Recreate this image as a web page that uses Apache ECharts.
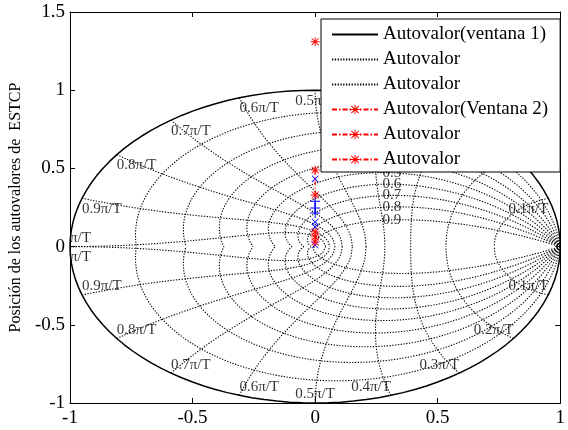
<!DOCTYPE html>
<html lang="es">
<head>
<meta charset="UTF-8">
<title>Autovalores ESTCP</title>
<script src="https://cdn.jsdelivr.net/npm/echarts@6/dist/echarts.min.js"></script>
<style>html,body{margin:0;padding:0;background:#fff;}</style>
</head>
<body>
<div id="main" style="width:568px;height:430px;"></div>
<script type="text/javascript">
// ejes
var xRange = [-1, 1];
var yRange = [-1, 1.5];
var tickStep = 0.5;

// rejilla zgrid: coeficientes de amortiguamiento y frecuencias naturales (x pi/T)
var zetaValues = [0.1, 0.2, 0.3, 0.4, 0.5, 0.6, 0.7, 0.8, 0.9];
var wnValues = [0.1, 0.2, 0.3, 0.4, 0.5, 0.6, 0.7, 0.8, 0.9, 1.0];
var wnLabels = ['0.1\u03c0/T', '0.2\u03c0/T', '0.3\u03c0/T', '0.4\u03c0/T', '0.5\u03c0/T',
                '0.6\u03c0/T', '0.7\u03c0/T', '0.8\u03c0/T', '0.9\u03c0/T', '\u03c0/T'];
var zetaLabels = ['0.1', '0.2', '0.3', '0.4', '0.5', '0.6', '0.7', '0.8', '0.9'];

// autovalores [real, imag]
var ventana2a = [[0, 1.31]];
var ventana2b = [[0, 0.49], [0, 0.33]];
var ventana2c = [[0, 0.094], [0, 0.062], [0, 0.03]];
var azulMas = [[0, 0.29], [0, 0.247], [0, 0.215]];
var azulX = [[0, 0.433], [0, 0.158], [0, 0.126], [0, 0.01]];

var FONT = 'Liberation Serif';
var asterisco = 'path://M-0.5,-5L0.5,-5L0.5,5L-0.5,5Z M-5,-0.5L5,-0.5L5,0.5L-5,0.5Z M-4.2,-3.5L-3.5,-4.2L4.2,3.5L3.5,4.2Z M3.5,-4.2L4.2,-3.5L-3.5,4.2L-4.2,3.5Z';
var mas = 'path://M-0.5,-5L0.5,-5L0.5,5L-0.5,5Z M-5,-0.5L5,-0.5L5,0.5L-5,0.5Z';
var cruz = 'path://M-4.2,-3.5L-3.5,-4.2L4.2,3.5L3.5,4.2Z M3.5,-4.2L4.2,-3.5L-3.5,4.2L-4.2,3.5Z';

var dotted = [1.3, 1.5];
var sinColor = 'rgba(0,0,0,0)';
var series = [];

// curvas de amortiguamiento constante: z = exp(sT)
function curvaZeta(zeta, signo) {
    var pts = [];
    var k = zeta / Math.sqrt(1 - zeta * zeta);
    for (var i = 0; i <= 80; i++) {
        var th = Math.PI * i / 80;
        var r = Math.exp(-k * th);
        pts.push([r * Math.cos(th), signo * r * Math.sin(th)]);
    }
    return pts;
}
// curvas de frecuencia natural constante
function curvaWn(wn, signo) {
    var pts = [];
    var w = wn * Math.PI;
    for (var i = 0; i <= 50; i++) {
        var z = i / 50;
        var r = Math.exp(-z * w);
        var th = w * Math.sqrt(1 - z * z);
        pts.push([r * Math.cos(th), signo * r * Math.sin(th)]);
    }
    return pts;
}
function rejilla(name, data) {
    series.push({
        name: name, type: 'line', data: data, symbol: 'circle', showSymbol: false, silent: true,
        itemStyle: {color: sinColor},
        lineStyle: {color: '#000', width: 1.1, type: dotted}, z: 1
    });
}
zetaValues.forEach(function (zt) {
    rejilla('Autovalor', curvaZeta(zt, 1));
    rejilla('Autovalor', curvaZeta(zt, -1));
});
wnValues.forEach(function (wn) {
    rejilla('Autovalor#2', curvaWn(wn, 1));
    rejilla('Autovalor#2', curvaWn(wn, -1));
});

// circulo unidad
var circulo = [];
for (var i = 0; i <= 120; i++) {
    var a = 2 * Math.PI * i / 120;
    circulo.push([Math.cos(a), Math.sin(a)]);
}
series.unshift({
    name: 'Autovalor(ventana 1)', type: 'line', data: circulo, symbol: 'circle', showSymbol: false, silent: true,
    itemStyle: {color: sinColor},
    lineStyle: {color: '#000', width: 1.5}, z: 2
});

// etiquetas de frecuencia natural
var etiquetasWn = [];
wnValues.forEach(function (wn, i) {
    var x = Math.cos(wn * Math.PI), y = Math.sin(wn * Math.PI);
    var al = Math.abs(x) < 1e-6 ? 'center' : (x < 0 ? 'left' : 'right');
    var arriba = wn < 1 ? 'top' : 'bottom';
    var abajo = wn < 1 ? 'bottom' : 'top';
    etiquetasWn.push({value: [x, y], label: {formatter: wnLabels[i], align: al, verticalAlign: arriba,
        offset: [0, arriba === 'top' ? 3 : -1]}});
    etiquetasWn.push({value: [x, -y], label: {formatter: wnLabels[i], align: al, verticalAlign: abajo,
        offset: [0, abajo === 'top' ? 3 : -1]}});
});
// etiquetas de amortiguamiento (donde la curva cruza x = 0.3)
var etiquetasZeta = [];
zetaValues.forEach(function (zt, i) {
    var k = zt / Math.sqrt(1 - zt * zt);
    var lo = 0, hi = Math.PI / 2;
    for (var n = 0; n < 40; n++) {
        var mid = (lo + hi) / 2;
        if (Math.exp(-k * mid) * Math.cos(mid) > 0.3) lo = mid; else hi = mid;
    }
    var y = Math.exp(-k * lo) * Math.sin(lo);
    etiquetasZeta.push({value: [0.275, y], label: {formatter: zetaLabels[i], align: 'left', verticalAlign: 'middle'}});
});
var etiquetaBase = {show: true, position: 'inside', fontFamily: FONT, fontSize: 15, color: '#000'};
series.push({type: 'scatter', data: etiquetasWn, symbolSize: 1, silent: true,
    itemStyle: {color: sinColor}, label: etiquetaBase, z: 3});
series.push({type: 'scatter', data: etiquetasZeta, symbolSize: 1, silent: true,
    itemStyle: {color: sinColor}, label: etiquetaBase, z: 3});

// autovalores
function rojo(name, data) {
    series.push({
        name: name, type: 'line', data: data, symbol: asterisco, symbolSize: 9, showSymbol: true,
        itemStyle: {color: '#ff0000', borderWidth: 0},
        lineStyle: {color: '#ff0000', width: 1, type: [5, 2, 1.5, 2]}, z: 5
    });
}
series.push({name: 'azul+', type: 'line', data: azulMas, symbol: mas, symbolSize: 10,
    itemStyle: {color: '#0000ff', borderWidth: 0}, lineStyle: {color: '#0000ff', width: 1}, z: 4});
series.push({name: 'azulx', type: 'line', data: azulX, symbol: cruz, symbolSize: 7,
    itemStyle: {color: '#0000ff', borderWidth: 0}, lineStyle: {width: 0}, z: 4});
rojo('Autovalor(Ventana 2)', ventana2a);
rojo('Autovalor#3', ventana2b);
rojo('Autovalor#4', ventana2c);

var axisLine = {show: true, onZero: false, lineStyle: {color: '#000', width: 1}};
var axisTick = {show: true, inside: true, length: 5, lineStyle: {color: '#000'}};
var labelStyle = {fontFamily: FONT, fontSize: 19, color: '#000'};

var myChart = echarts.init(document.getElementById('main'));
var option = {
    animation: false,
    backgroundColor: '#fff',
    grid: {left: 70, right: 1, top: 12, bottom: 27, containLabel: false},
    xAxis: [
        {type: 'value', min: xRange[0], max: xRange[1], interval: tickStep, position: 'bottom',
         axisLine: axisLine, axisTick: axisTick, splitLine: {show: false},
         axisLabel: Object.assign({margin: 6}, labelStyle)},
        {type: 'value', min: xRange[0], max: xRange[1], interval: tickStep, position: 'top',
         axisLine: axisLine, axisTick: axisTick, splitLine: {show: false}, axisLabel: {show: false}}
    ],
    yAxis: [
        {type: 'value', min: yRange[0], max: yRange[1], interval: tickStep, position: 'left',
         name: 'Posición de los autovalores de  ESTCP', nameLocation: 'middle', nameGap: 40,
         nameTextStyle: {fontFamily: FONT, fontSize: 16, color: '#000'},
         axisLine: axisLine, axisTick: axisTick, splitLine: {show: false},
         axisLabel: Object.assign({margin: 5}, labelStyle)},
        {type: 'value', min: yRange[0], max: yRange[1], interval: tickStep, position: 'right',
         axisLine: axisLine, axisTick: axisTick, splitLine: {show: false}, axisLabel: {show: false}}
    ],
    legend: {
        orient: 'vertical', left: 321, top: 19, align: 'left',
        backgroundColor: '#fff', borderColor: '#000', borderWidth: 1,
        padding: [6, 12, 3, 10], itemGap: 6, itemWidth: 46, itemHeight: 12,
        selectedMode: false,
        textStyle: {fontFamily: FONT, fontSize: 19, color: '#000', lineHeight: 19},
        formatter: function (name) { return name.replace(/#\d+$/, ''); },
        data: ['Autovalor(ventana 1)', 'Autovalor', 'Autovalor#2',
               'Autovalor(Ventana 2)', 'Autovalor#3', 'Autovalor#4']
    },
    series: series
};
myChart.setOption(option);
</script>
</body>
</html>
